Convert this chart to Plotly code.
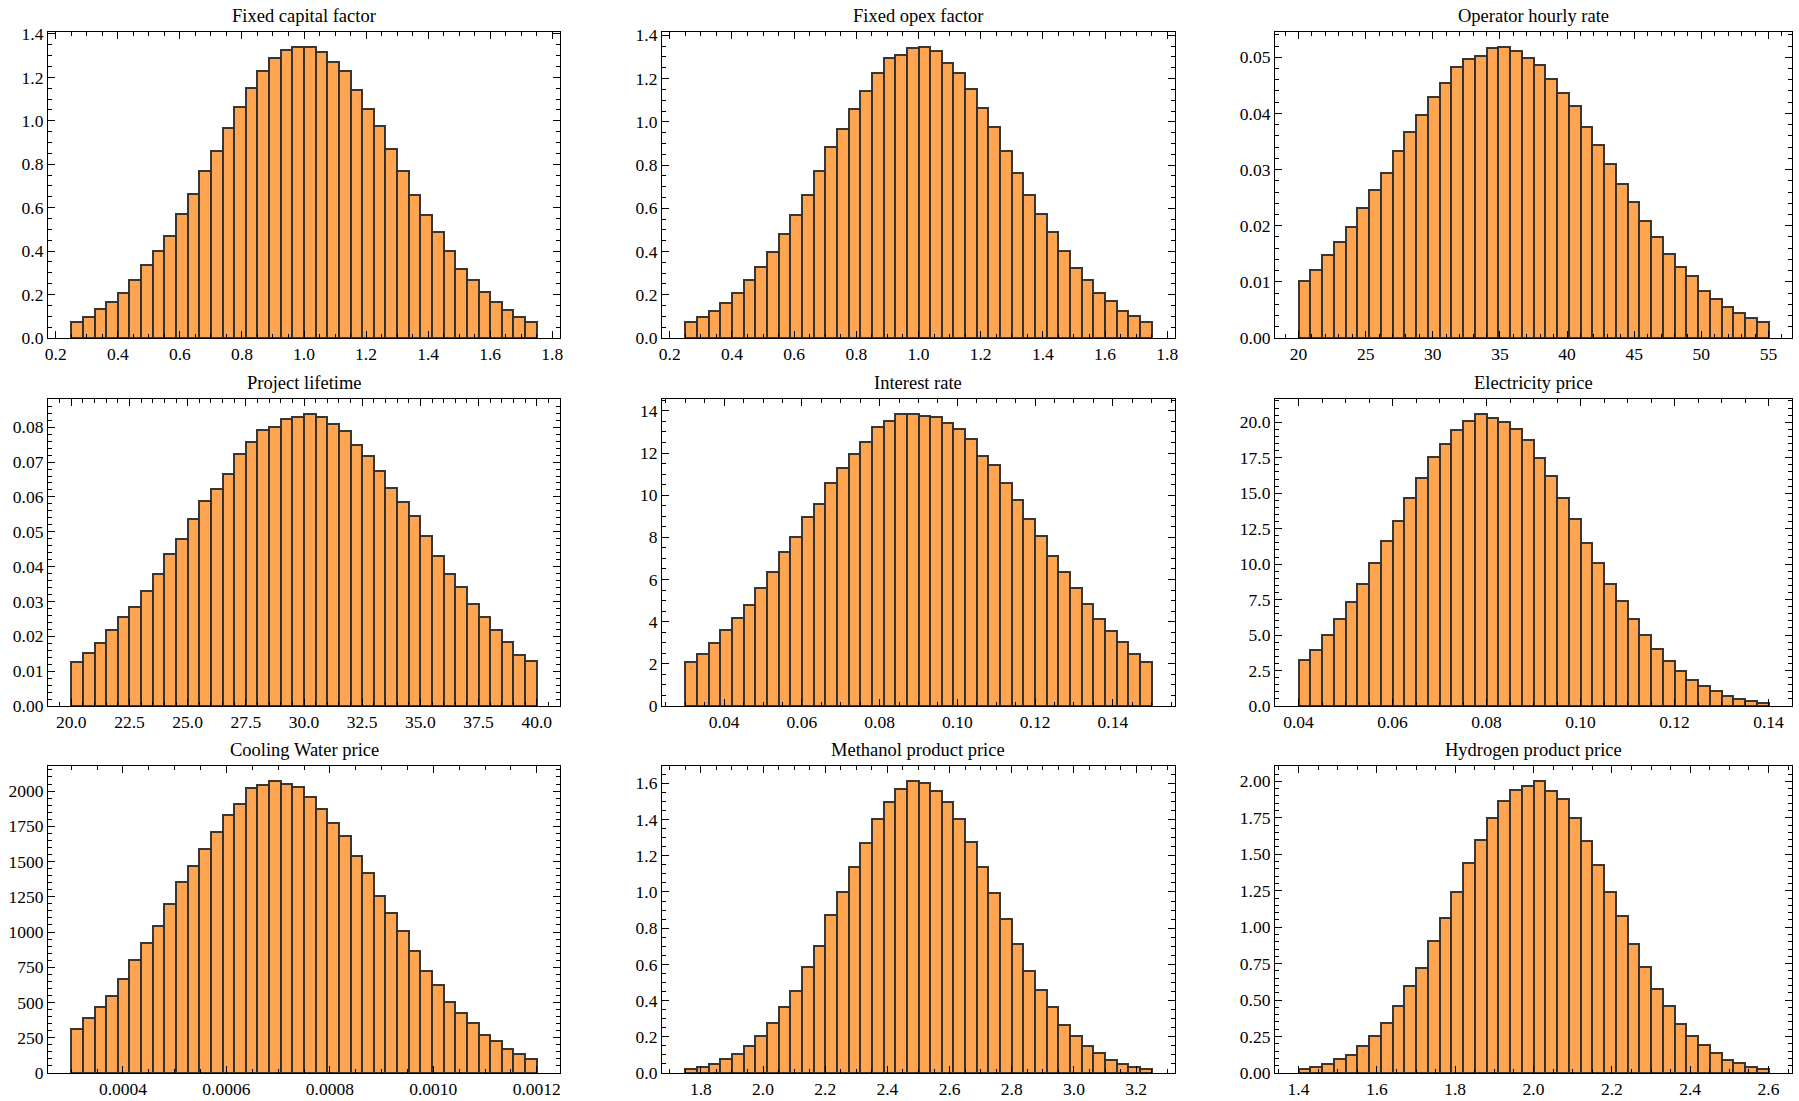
import numpy as np
import plotly.graph_objects as go
from plotly.subplots import make_subplots

# titulos de cada panel
titulos = ["Fixed capital factor", "Fixed opex factor", "Operator hourly rate",
           "Project lifetime", "Interest rate", "Electricity price",
           "Cooling Water price", "Methanol product price", "Hydrogen product price"]

# rango de los bins (40 bins por panel)
bin_lo = [0.25, 0.25, 20, 20, 0.03, 0.04, 0.0003, 1.75, 1.4]
bin_hi = [1.75, 1.75, 55, 40, 0.15, 0.14, 0.0012, 3.25, 2.6]

# alturas (densidad)
fixed_capital = [0.072, 0.099, 0.132, 0.164, 0.205, 0.269, 0.338, 0.402, 0.471, 0.572,
                 0.664, 0.770, 0.861, 0.968, 1.063, 1.151, 1.229, 1.291, 1.328, 1.342,
                 1.342, 1.319, 1.273, 1.229, 1.144, 1.054, 0.975, 0.869, 0.770, 0.659,
                 0.566, 0.490, 0.402, 0.320, 0.268, 0.210, 0.168, 0.127, 0.095, 0.072]
fixed_opex = [0.072, 0.095, 0.127, 0.164, 0.206, 0.270, 0.330, 0.399, 0.482, 0.570,
              0.662, 0.772, 0.883, 0.966, 1.058, 1.141, 1.224, 1.293, 1.311, 1.342,
              1.348, 1.328, 1.274, 1.228, 1.154, 1.062, 0.975, 0.864, 0.763, 0.662,
              0.574, 0.491, 0.404, 0.325, 0.266, 0.210, 0.169, 0.127, 0.100, 0.072]
operator_rate = [0.0102, 0.0121, 0.0148, 0.0171, 0.0198, 0.0231, 0.0263, 0.0294, 0.0333, 0.0366,
                 0.0398, 0.0430, 0.0455, 0.0483, 0.0496, 0.0503, 0.0517, 0.0519, 0.0512, 0.0499,
                 0.0487, 0.0462, 0.0436, 0.0414, 0.0375, 0.0343, 0.0310, 0.0275, 0.0243, 0.0209,
                 0.0180, 0.0150, 0.0127, 0.0110, 0.0084, 0.0070, 0.0056, 0.0045, 0.0036, 0.0029]
project_life = [0.0126, 0.0152, 0.0181, 0.0217, 0.0256, 0.0284, 0.0329, 0.0378, 0.0436, 0.0479,
                0.0537, 0.0589, 0.0623, 0.0665, 0.0724, 0.0759, 0.0793, 0.0802, 0.0825, 0.0828,
                0.0839, 0.0828, 0.0810, 0.0788, 0.0750, 0.0718, 0.0675, 0.0626, 0.0586, 0.0546,
                0.0488, 0.0430, 0.0378, 0.0341, 0.0292, 0.0256, 0.0217, 0.0183, 0.0146, 0.0129]
interest = [2.11, 2.49, 2.97, 3.59, 4.16, 4.78, 5.59, 6.35, 7.30, 8.02,
            8.97, 9.59, 10.59, 11.30, 11.97, 12.54, 13.25, 13.54, 13.83, 13.87,
            13.78, 13.73, 13.44, 13.16, 12.68, 11.87, 11.44, 10.59, 9.78, 8.87,
            8.06, 7.11, 6.35, 5.59, 4.83, 4.11, 3.54, 3.02, 2.46, 2.11]
electricity = [3.21, 3.92, 4.98, 6.11, 7.31, 8.58, 10.07, 11.63, 13.04, 14.67,
               16.08, 17.57, 18.49, 19.48, 20.12, 20.61, 20.33, 20.05, 19.55, 18.77,
               17.50, 16.23, 14.67, 13.18, 11.49, 10.07, 8.58, 7.38, 6.11, 4.98,
               3.99, 3.14, 2.50, 1.86, 1.44, 1.08, 0.73, 0.52, 0.38, 0.24]
cooling_water = [309, 387, 466, 549, 670, 805, 919, 1040, 1197, 1354,
                 1468, 1589, 1710, 1831, 1910, 2024, 2045, 2074, 2052, 2031,
                 1960, 1874, 1774, 1682, 1539, 1418, 1254, 1133, 1005, 862,
                 727, 627, 506, 428, 356, 271, 228, 171, 135, 100]
methanol = [0.022, 0.033, 0.050, 0.078, 0.105, 0.150, 0.205, 0.277, 0.366, 0.455,
            0.588, 0.699, 0.871, 0.999, 1.138, 1.271, 1.404, 1.498, 1.570, 1.615,
            1.604, 1.559, 1.498, 1.404, 1.276, 1.138, 0.993, 0.849, 0.710, 0.566,
            0.461, 0.366, 0.266, 0.205, 0.150, 0.111, 0.072, 0.050, 0.033, 0.022]
hydrogen = [0.030, 0.044, 0.064, 0.096, 0.126, 0.188, 0.257, 0.340, 0.457, 0.595,
            0.719, 0.905, 1.061, 1.242, 1.440, 1.600, 1.750, 1.862, 1.943, 1.970,
            2.005, 1.936, 1.881, 1.750, 1.591, 1.428, 1.240, 1.075, 0.882, 0.730,
            0.576, 0.457, 0.338, 0.257, 0.195, 0.140, 0.092, 0.067, 0.041, 0.030]

series = [fixed_capital, fixed_opex, operator_rate, project_life, interest,
          electricity, cooling_water, methanol, hydrogen]

# ticks: (dtick mayor, dtick menor, formato)
x_ticks = [(0.2, 0.05, ".1f"), (0.2, 0.05, ".1f"), (5, 1, "d"),
           (2.5, 0.5, ".1f"), (0.02, 0.005, ".2f"), (0.02, 0.005, ".2f"),
           (0.0002, 0.00005, ".4f"), (0.2, 0.05, ".1f"), (0.2, 0.05, ".1f")]
y_ticks = [(0.2, 0.05, ".1f"), (0.2, 0.05, ".1f"), (0.01, 0.002, ".2f"),
           (0.01, 0.002, ".2f"), (2, 0.5, "d"), (2.5, 0.5, ".1f"),
           (250, 50, "d"), (0.2, 0.05, ".1f"), (0.25, 0.05, ".2f")]

W, H = 1799, 1101
col_px = [(48, 560), (662, 1175), (1275, 1792)]
row_px = [(32, 338), (399, 706), (766, 1073)]

fig = make_subplots(rows=3, cols=3)

fuente = "Liberation Serif, Times New Roman, serif"

for i in range(9):
    r, c = i // 3, i % 3
    n = len(series[i])
    edges = np.linspace(bin_lo[i], bin_hi[i], n + 1)
    centros = (edges[:-1] + edges[1:]) / 2
    ancho = edges[1] - edges[0]
    fig.add_trace(go.Bar(x=centros, y=series[i], width=ancho,
                         marker=dict(color="#ffa552",
                                     line=dict(color="rgba(45,45,45,0.95)", width=2)),
                         showlegend=False), row=r + 1, col=c + 1)

    span = bin_hi[i] - bin_lo[i]
    xr = [bin_lo[i] - 0.05 * span, bin_hi[i] + 0.05 * span]
    yr = [0, max(series[i]) * 1.05]

    xd = [col_px[c][0] / W, col_px[c][1] / W]
    yd = [1 - row_px[r][1] / H, 1 - row_px[r][0] / H]

    comun = dict(showline=True, linecolor="black", linewidth=1.2, mirror="allticks",
                 ticks="inside", ticklen=7, tickwidth=1, tickcolor="black",
                 showgrid=False, zeroline=False, automargin=False, tick0=0,
                 tickfont=dict(family=fuente, size=17.5, color="black"))

    fig.update_xaxes(range=xr, domain=xd, dtick=x_ticks[i][0], tickformat=x_ticks[i][2],
                     minor=dict(ticks="inside", ticklen=3.5, tickcolor="black",
                                dtick=x_ticks[i][1], tick0=0, showgrid=False),
                     **comun, row=r + 1, col=c + 1)
    fig.update_yaxes(range=yr, domain=yd, dtick=y_ticks[i][0], tickformat=y_ticks[i][2],
                     minor=dict(ticks="inside", ticklen=3.5, tickcolor="black",
                                dtick=y_ticks[i][1], tick0=0, showgrid=False),
                     **comun, row=r + 1, col=c + 1)

    #titulo del panel
    fig.add_annotation(text=titulos[i], xref="paper", yref="paper",
                       x=(xd[0] + xd[1]) / 2, y=yd[1], xanchor="center", yanchor="bottom",
                       yshift=4, showarrow=False,
                       font=dict(family=fuente, size=18.5, color="black"))

fig.update_layout(width=W, height=H, margin=dict(l=0, r=0, t=0, b=0),
                  plot_bgcolor="white", paper_bgcolor="white", bargap=0,
                  font=dict(family=fuente, color="black"))

#quito el margen del body para que la figura empiece en (0,0), sin barra de herramientas
fig.write_html("out.html", config={"displayModeBar": False},
               post_script="document.body.style.margin='0px';")
